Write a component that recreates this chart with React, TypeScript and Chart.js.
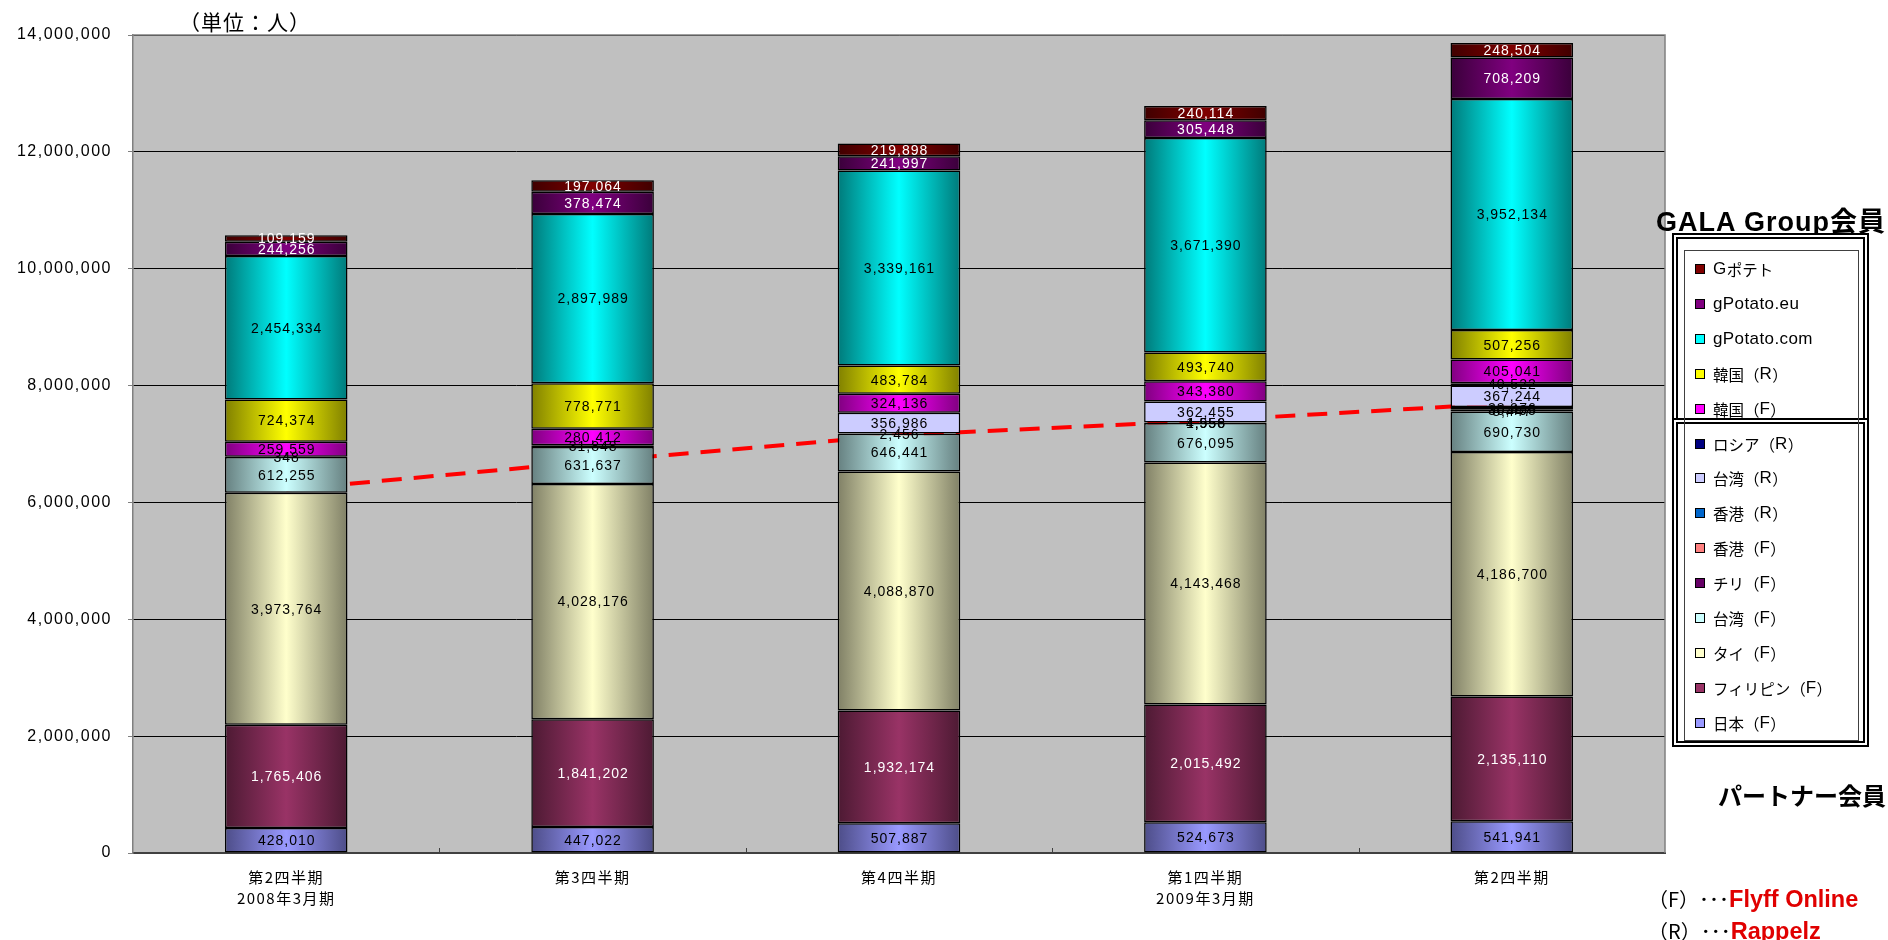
import React, { useEffect, useRef } from "react";
import { Chart, registerables } from "chart.js";

Chart.register(...registerables);

// ---- data ----
const categories: string[][] = [
  ["第2四半期", "2008年3月期"],
  ["第3四半期"],
  ["第4四半期"],
  ["第1四半期", "2009年3月期"],
  ["第2四半期"],
];

const japanF = [428010, 447022, 507887, 524673, 541941];
const philippinesF = [1765406, 1841202, 1932174, 2015492, 2135110];
const thailandF = [3973764, 4028176, 4088870, 4143468, 4186700];
const taiwanF = [612255, 631637, 646441, 676095, 690730];
const chileF = [348, 31848, 2456, 4956, 8447];
const hongkongF = [0, 0, 0, 1558, 30495];
const hongkongR = [0, 0, 0, 0, 38976];
const taiwanR = [0, 0, 356986, 362455, 367244];
const russiaR = [0, 0, 0, 0, 40522];
const koreaF = [259559, 280412, 324136, 343380, 405041];
const koreaR = [724374, 778771, 483784, 493740, 507256];
const gpotatoCom = [2454334, 2897989, 3339161, 3671390, 3952134];
const gpotatoEu = [244256, 378474, 241997, 305448, 708209];
const gpotatoJp = [109159, 197064, 219898, 240114, 248504];

// red dashed separator (partner vs GALA group members)
const separatorLine = [6220000, 6700000, 7150000, 7400000, 7700000];

const yTickValues = [0, 2000000, 4000000, 6000000, 8000000, 10000000, 12000000, 14000000];

const seriesLabels = [
  "日本（F）",
  "フィリピン（F）",
  "タイ（F）",
  "台湾（F）",
  "チリ（F）",
  "香港（F）",
  "香港（R）",
  "台湾（R）",
  "ロシア（R）",
  "韓国（F）",
  "韓国（R）",
  "gPotato.com",
  "gPotato.eu",
  "Gポテト",
];
const seriesValues = [
  japanF, philippinesF, thailandF, taiwanF, chileF, hongkongF, hongkongR,
  taiwanR, russiaR, koreaF, koreaR, gpotatoCom, gpotatoEu, gpotatoJp,
];
const centerColors = [
  "#9999FF", "#993366", "#FFFFCC", "#CCFFFF", "#660066", "#FF8080", "#0066CC",
  "#CCCCFF", "#000080", "#FF00FF", "#FFFF00", "#00FFFF", "#800080", "#800000",
];
const edgeColors = [
  "#4D4D88", "#4D1A33", "#808066", "#668080", "#330033", "#804040", "#003366",
  "#CCCCFF", "#000040", "#800080", "#808000", "#007A7A", "#3A003A", "#400000",
];
const labelColors = [
  "#000", "#fff", "#000", "#000", "#000", "#000", "#000",
  "#000", "#000", "#000", "#000", "#000", "#fff", "#fff",
];

const BAR_PCT = 0.4;

function gradientFor(c: any, i: number) {
  const chart = c.chart;
  const area = chart.chartArea;
  const xs = chart.scales && chart.scales.x;
  if (!area || !xs || c.dataIndex === undefined) return centerColors[i];
  const x = xs.getPixelForValue(c.dataIndex);
  const hw = ((area.right - area.left) / categories.length) * BAR_PCT / 2;
  const g = chart.ctx.createLinearGradient(x - hw, 0, x + hw, 0);
  g.addColorStop(0, edgeColors[i]);
  g.addColorStop(0.5, centerColors[i]);
  g.addColorStop(1, edgeColors[i]);
  return g;
}

const framePlugin = {
  id: "frame",
  beforeDraw(chart: any) {
    const { ctx, chartArea: a } = chart;
    ctx.save();
    ctx.fillStyle = "#C0C0C0";
    ctx.fillRect(a.left, a.top, a.right - a.left, a.bottom - a.top);
    ctx.restore();
    ctx.letterSpacing = "1.5px";
  },
  beforeDatasetsDraw(chart: any) {
    const { ctx, chartArea: a } = chart;
    ctx.save();
    ctx.strokeStyle = "#808080";
    ctx.lineWidth = 1.5;
    ctx.beginPath();
    ctx.moveTo(a.left, a.top);
    ctx.lineTo(a.right, a.top);
    ctx.lineTo(a.right, a.bottom);
    ctx.stroke();
    ctx.strokeStyle = "#404040";
    ctx.lineWidth = 1;
    const n = categories.length;
    const w = (a.right - a.left) / n;
    for (let k = 1; k < n; k++) {
      const x = Math.round(a.left + k * w) + 0.5;
      ctx.beginPath();
      ctx.moveTo(x, a.bottom);
      ctx.lineTo(x, a.bottom - 5);
      ctx.stroke();
    }
    ctx.restore();
  },
  afterDatasetsDraw(chart: any) {
    const ctx = chart.ctx;
    ctx.save();
    ctx.font = '14px "Liberation Sans", Arial, sans-serif';
    ctx.letterSpacing = "1px";
    ctx.textAlign = "center";
    ctx.textBaseline = "middle";
    chart.data.datasets.forEach((ds: any, di: number) => {
      if (ds.type === "line") return;
      const meta = chart.getDatasetMeta(di);
      meta.data.forEach((el: any, i: number) => {
        const v = ds.data[i];
        if (!v) return;
        const p = el.getProps(["x", "y", "base"], true);
        ctx.fillStyle = labelColors[di];
        ctx.fillText(Number(v).toLocaleString("en-US"), p.x + 0.5, (p.y + p.base) / 2 + 1);
      });
    });
    ctx.restore();
  },
  afterDraw(chart: any) {
    chart.ctx.letterSpacing = "0px";
  },
};

function legendText(s: string) {
  return s
    .split(/([A-Za-z.]+)/)
    .filter((p) => p.length > 0)
    .map((part, i) =>
      /^[A-Za-z.]+$/.test(part) ? (
        <span key={i} style={{ font: '17px "Liberation Sans", sans-serif', letterSpacing: "0.4px" }}>{part}</span>
      ) : (
        <span key={i} style={{ font: '15.5px "Noto Sans CJK JP", sans-serif' }}>{part}</span>
      )
    );
}

export default function App() {
  const ref = useRef<HTMLCanvasElement>(null);

  useEffect(() => {
    const canvas = ref.current!;
    const barDatasets = seriesValues.map((vals, i) => ({
      type: "bar" as const,
      label: seriesLabels[i],
      data: vals,
      stack: "members",
      order: 1,
      backgroundColor: (c: any) => gradientFor(c, i),
      borderColor: "#000",
      borderWidth: 1.5,
      borderSkipped: false,
      barPercentage: BAR_PCT,
      categoryPercentage: 1,
    }));
    const lineDataset: any = {
      type: "line",
      label: "separator",
      data: separatorLine,
      stack: "separator",
      order: 10,
      borderColor: "#FF0000",
      borderWidth: 4,
      borderDash: [20, 12],
      pointRadius: 0,
      fill: false,
      tension: 0,
    };
    const chart = new Chart(canvas, {
      type: "bar",
      data: { labels: categories as any, datasets: [...barDatasets, lineDataset] as any },
      options: {
        animation: false,
        responsive: false,
        devicePixelRatio: 1,
        layout: { padding: { top: 35, right: 223, bottom: 0, left: 0 } },
        plugins: { legend: { display: false }, tooltip: { enabled: false } },
        scales: {
          x: {
            stacked: true,
            afterFit: (s: any) => { s.height = 87; },
            ticks: {
              color: "#000",
              font: { family: '"Noto Sans CJK JP", sans-serif', size: 15, lineHeight: 1.45 },
              padding: 13,
              maxRotation: 0,
              autoSkip: false,
            },
            grid: { display: true, drawOnChartArea: false, drawTicks: false },
            border: { display: true, color: "#404040", width: 2 },
          },
          y: {
            stacked: true,
            min: 0,
            max: 14000000,
            afterBuildTicks: (s: any) => { s.ticks = yTickValues.map((v) => ({ value: v })); },
            afterFit: (s: any) => { s.width = 133; },
            ticks: {
              color: "#000",
              font: { family: '"Liberation Sans", Arial, sans-serif', size: 16 },
              padding: 16,
              callback: (v: any) => Number(v).toLocaleString("en-US"),
            },
            grid: { color: "#000", lineWidth: 1, tickColor: "#808080", tickLength: 5, drawTicks: true },
            border: { display: true, color: "#808080", width: 1.5 },
          },
        },
      } as any,
      plugins: [framePlugin],
    });
    return () => chart.destroy();
  }, []);

  const legendOrder = seriesLabels.map((_, i) => i).reverse();

  return (
    <div style={{ position: "fixed", left: 0, top: 0, width: 1888, height: 940, background: "#fff", overflow: "hidden" }}>
      <canvas ref={ref} width={1888} height={940} style={{ position: "absolute", left: 0, top: 0, width: 1888, height: 940 }} />
      <div style={{ position: "absolute", left: 179, top: 7, font: '21px "Noto Sans CJK JP", sans-serif', letterSpacing: "1px", lineHeight: "28px", whiteSpace: "nowrap" }}>
        （単位：人）
      </div>
      <div style={{ position: "absolute", right: 2, top: 207, font: 'bold 27px "Liberation Sans", "Noto Sans CJK JP", sans-serif', letterSpacing: "1px", lineHeight: "30px", whiteSpace: "nowrap" }}>
        GALA Group会員
      </div>
      <div style={{ position: "absolute", right: 2, top: 779, font: 'bold 24px "Noto Sans CJK JP", sans-serif', lineHeight: "32px", whiteSpace: "nowrap" }}>
        パートナー会員
      </div>
      {/* legend frames */}
      <div style={{ position: "absolute", left: 1672, top: 233, width: 197, height: 191, border: "6px double #000", boxSizing: "border-box", background: "#fff" }} />
      <div style={{ position: "absolute", left: 1672, top: 418, width: 197, height: 329, border: "6px double #000", boxSizing: "border-box", background: "#fff" }} />
      <div style={{ position: "absolute", left: 1684, top: 250, width: 175, height: 491, border: "1px solid #404040", boxSizing: "border-box" }} />
      {legendOrder.map((si, k) => (
        <div key={si} style={{ position: "absolute", left: 1695, top: 269 + k * 34.9 - 12, height: 24, display: "flex", alignItems: "center", whiteSpace: "nowrap" }}>
          <span style={{ display: "inline-block", width: 10, height: 10, background: centerColors[si], border: "1px solid #000", boxSizing: "border-box", marginRight: 8 }} />
          {legendText(seriesLabels[si])}
        </div>
      ))}
      <div style={{ position: "absolute", left: 1648, top: 884, lineHeight: "29px", whiteSpace: "nowrap" }}>
        <div>
          <span style={{ font: '20px "Noto Sans CJK JP", sans-serif' }}>（F）･･･</span>
          <span style={{ font: 'bold 23.5px "Liberation Sans", sans-serif', color: "#E00000" }}>Flyff Online</span>
        </div>
        <div>
          <span style={{ font: '20px "Noto Sans CJK JP", sans-serif' }}>（R）･･･</span>
          <span style={{ font: 'bold 23.5px "Liberation Sans", sans-serif', color: "#E00000" }}>Rappelz</span>
        </div>
      </div>
    </div>
  );
}
